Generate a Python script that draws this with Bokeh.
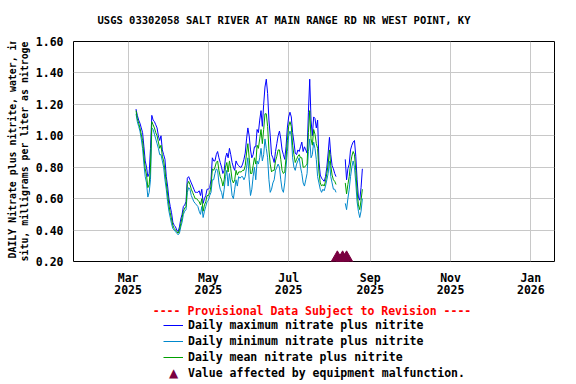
import math
import numpy as np
import pandas as pd
from bokeh.plotting import figure
from bokeh.layouts import column, row
from bokeh.models import (ColumnDataSource, FixedTicker, Range1d, Label, Legend, LegendItem,
                          DatetimeTickFormatter, PrintfTickFormatter)
from bokeh.embed import file_html
from bokeh.resources import INLINE

TITLE = "USGS 03302058 SALT RIVER AT MAIN RANGE RD NR WEST POINT, KY"
YLABEL_1 = "DAILY Nitrate plus nitrite, water, in"
YLABEL_2 = "situ, milligrams per liter as nitrogen"
PROVISIONAL = "---- Provisional Data Subject to Revision ----"
LEGEND_LABELS = ["Daily maximum nitrate plus nitrite",
                 "Daily minimum nitrate plus nitrite",
                 "Daily mean nitrate plus nitrite",
                 "Value affected by equipment malfunction."]

x_tick_dates = ["2025-03-01", "2025-05-01", "2025-07-01", "2025-09-01", "2025-11-01", "2026-01-01"]
y_ticks = [0.20, 0.40, 0.60, 0.80, 1.00, 1.20, 1.40, 1.60]

# Segment 1: daily values starting 2025-03-07
seg1_start = "2025-03-07"
max_seg1 = [1.17, 1.13, 1.10, 1.08, 1.05, 1.02, 0.93, 0.84, 0.80, 0.74, 0.76, 0.92, 1.13, 1.10, 1.09,
            1.07, 1.05, 1.00, 0.97, 1.00, 0.91, 0.88, 0.85, 0.74, 0.68, 0.60, 0.55, 0.51, 0.45, 0.43,
            0.42, 0.40, 0.39, 0.42, 0.47, 0.50, 0.55, 0.56, 0.58, 0.73, 0.74, 0.72, 0.70, 0.68, 0.66,
            0.64, 0.64, 0.64, 0.65, 0.62, 0.66, 0.57, 0.60, 0.62, 0.66, 0.66, 0.67, 0.72, 0.86, 0.84,
            0.84, 0.88, 0.90, 0.86, 0.83, 0.80, 0.76, 0.78, 0.86, 0.89, 0.86, 0.92, 0.88, 0.83, 0.80,
            0.78, 0.84, 0.82, 0.81, 0.80, 0.80, 0.82, 0.85, 0.89, 0.98, 1.05, 1.00, 0.91, 0.86, 0.88,
            0.93, 0.93, 1.04, 1.02, 1.10, 1.16, 1.06, 1.20, 1.31, 1.36, 1.27, 1.10, 1.00, 0.88, 0.86,
            0.83, 0.90, 0.95, 1.00, 1.03, 0.98, 0.91, 0.88, 0.85, 0.93, 1.05, 1.12, 1.15, 1.12, 1.02,
            0.96, 0.89, 0.88, 0.91, 0.90, 0.93, 0.96, 0.90, 0.93, 0.91, 0.89, 1.15, 1.36, 1.10, 1.00,
            1.12, 1.11, 1.05, 1.10, 0.84, 0.75, 0.73, 0.72, 0.71, 0.74, 0.80, 0.89, 0.99, 0.88, 0.81,
            0.79, 0.76, 0.74]
min_seg1 = [1.14, 1.09, 1.06, 1.03, 0.98, 0.92, 0.82, 0.74, 0.70, 0.61, 0.64, 0.72, 1.05, 1.04, 1.01,
            0.98, 0.95, 0.92, 0.88, 0.88, 0.84, 0.80, 0.72, 0.66, 0.58, 0.52, 0.48, 0.44, 0.41, 0.40,
            0.39, 0.38, 0.37, 0.38, 0.42, 0.45, 0.50, 0.52, 0.53, 0.64, 0.67, 0.66, 0.62, 0.60, 0.58,
            0.57, 0.56, 0.55, 0.52, 0.50, 0.55, 0.48, 0.52, 0.55, 0.58, 0.59, 0.62, 0.64, 0.72, 0.72,
            0.76, 0.79, 0.78, 0.70, 0.66, 0.64, 0.60, 0.66, 0.74, 0.78, 0.68, 0.76, 0.70, 0.62, 0.60,
            0.66, 0.72, 0.68, 0.74, 0.73, 0.74, 0.74, 0.72, 0.74, 0.80, 0.86, 0.72, 0.62, 0.66, 0.74,
            0.80, 0.72, 0.84, 0.82, 0.86, 0.92, 0.84, 0.88, 0.98, 0.92, 0.86, 0.72, 0.64, 0.66, 0.70,
            0.72, 0.78, 0.80, 0.82, 0.80, 0.72, 0.66, 0.64, 0.70, 0.80, 0.90, 1.00, 1.03, 1.00, 0.86,
            0.80, 0.78, 0.82, 0.84, 0.86, 0.80, 0.76, 0.70, 0.68, 0.72, 0.76, 0.90, 0.98, 0.86, 0.88,
            0.96, 0.92, 0.85, 0.74, 0.70, 0.66, 0.64, 0.66, 0.65, 0.68, 0.72, 0.76, 0.84, 0.74, 0.70,
            0.66, 0.66, 0.64]
mean_seg1 = [1.16, 1.11, 1.08, 1.05, 1.01, 0.97, 0.87, 0.79, 0.75, 0.67, 0.69, 0.80, 1.09, 1.07, 1.05,
             1.02, 1.00, 0.96, 0.92, 0.94, 0.87, 0.84, 0.78, 0.70, 0.63, 0.56, 0.51, 0.47, 0.43, 0.41,
             0.40, 0.39, 0.38, 0.40, 0.44, 0.48, 0.52, 0.54, 0.55, 0.69, 0.71, 0.69, 0.66, 0.64, 0.62,
             0.60, 0.60, 0.59, 0.58, 0.56, 0.60, 0.52, 0.56, 0.58, 0.62, 0.62, 0.64, 0.68, 0.79, 0.78,
             0.80, 0.83, 0.84, 0.78, 0.74, 0.72, 0.68, 0.72, 0.80, 0.83, 0.77, 0.84, 0.79, 0.72, 0.70,
             0.72, 0.78, 0.75, 0.77, 0.77, 0.77, 0.78, 0.78, 0.81, 0.89, 0.95, 0.86, 0.76, 0.76, 0.81,
             0.86, 0.82, 0.94, 0.92, 0.98, 1.04, 0.95, 1.04, 1.14, 1.14, 1.06, 0.91, 0.82, 0.77, 0.78,
             0.78, 0.84, 0.87, 0.91, 0.91, 0.85, 0.78, 0.76, 0.77, 0.86, 0.97, 1.06, 1.09, 1.06, 0.94,
             0.88, 0.83, 0.85, 0.87, 0.88, 0.86, 0.86, 0.80, 0.80, 0.81, 0.82, 1.02, 1.16, 0.98, 0.94,
             1.04, 1.01, 0.95, 0.92, 0.77, 0.70, 0.68, 0.69, 0.68, 0.71, 0.76, 0.82, 0.91, 0.81, 0.75,
             0.72, 0.71, 0.69]

# Segment 2: daily values starting 2025-08-13
seg2_start = "2025-08-13"
max_seg2 = [0.85, 0.72, 0.79, 0.82, 0.91, 0.94, 0.96, 0.97, 0.87, 0.72, 0.61, 0.59, 0.67, 0.79]
min_seg2 = [0.57, 0.53, 0.60, 0.66, 0.74, 0.80, 0.84, 0.80, 0.70, 0.58, 0.52, 0.48, 0.52, 0.60]
mean_seg2 = [0.70, 0.63, 0.69, 0.74, 0.82, 0.87, 0.90, 0.88, 0.78, 0.65, 0.56, 0.53, 0.59, 0.66]

malfunction_dates = ["2025-08-07", "2025-08-11", "2025-08-14"]
malfunction_y = [0.22, 0.22, 0.22]

C_MAX = "#0000ff"
C_MIN = "#0088cc"
C_MEAN = "#00a000"
C_MAL = "#7a0040"
FONT = "DejaVu Sans Mono"

d1 = pd.date_range(seg1_start, periods=len(max_seg1), freq="D")
d2 = pd.date_range(seg2_start, periods=len(max_seg2), freq="D")
gap = [d1[-1] + pd.Timedelta(days=1)]
dates = list(d1) + gap + list(d2)
nan = [float("nan")]
src = ColumnDataSource(dict(
    date=dates,
    mx=max_seg1 + nan + max_seg2,
    mn=min_seg1 + nan + min_seg2,
    mean=mean_seg1 + nan + mean_seg2,
))
mal_src = ColumnDataSource(dict(date=pd.to_datetime(malfunction_dates), y=malfunction_y))

W = 574
TOP_H, MAIN_H, LEG_H = 30, 270, 82
YLAB_W = 32
FRAME_TOP, FRAME_BOTTOM = 41, 265   # page rows of the plot frame


def blank(width, height):
    f = figure(width=width, height=height, output_backend="svg", toolbar_location=None,
               x_axis_location=None, y_axis_location=None,
               x_range=Range1d(0, 1), y_range=Range1d(0, 1),
               min_border=0, min_border_left=0, min_border_right=0,
               min_border_top=0, min_border_bottom=0)
    f.outline_line_color = None
    f.grid.visible = False
    f.background_fill_color = "white"
    f.border_fill_color = "white"
    return f


def lab(text, x, y, size, color="black", angle=0.0, font=FONT):
    return Label(x=x, y=y, x_units="screen", y_units="screen", text=text, angle=angle,
                 text_align="center", text_baseline="middle", text_font=font,
                 text_font_style="bold", text_font_size=size, text_color=color)


# ---- title strip
top = blank(W, TOP_H)
top.add_layout(lab(TITLE, 283.5, TOP_H - 19, "10.5px"))

# ---- y-label strip (its frame lines up with the main plot frame)
ylab = blank(YLAB_W, MAIN_H)
ylab.add_layout(lab(YLABEL_1, 12, FRAME_BOTTOM - 152, "9.9px", angle=math.pi / 2))
ylab.add_layout(lab(YLABEL_2, 24, FRAME_BOTTOM - 152, "9.9px", angle=math.pi / 2))

# ---- main plot
p = figure(width=W - YLAB_W, height=MAIN_H, x_axis_type="datetime", output_backend="svg",
           toolbar_location=None,
           x_range=Range1d(pd.Timestamp("2025-01-18 12:00"), pd.Timestamp("2026-01-19 00:00")),
           y_range=Range1d(0.2, 1.6),
           min_border_left=72 - YLAB_W, min_border_right=W - 554,
           min_border_top=FRAME_TOP - TOP_H, min_border_bottom=TOP_H + MAIN_H - FRAME_BOTTOM)
p.background_fill_color = "white"
p.border_fill_color = "white"
p.outline_line_color = "black"
p.outline_line_width = 1

xt = [pd.Timestamp(s).value // 10**6 for s in x_tick_dates]
p.xaxis.ticker = FixedTicker(ticks=xt)
p.xaxis.formatter = DatetimeTickFormatter(
    months="%b\n%Y", days="%b\n%Y", years="%b\n%Y", hours="%b\n%Y", minutes="%b\n%Y",
    seconds="%b\n%Y", milliseconds="%b\n%Y", minsec="%b\n%Y", hourmin="%b\n%Y")
p.yaxis.ticker = FixedTicker(ticks=y_ticks)
p.yaxis.formatter = PrintfTickFormatter(format="%.2f")
p.xgrid.ticker = FixedTicker(ticks=xt)
p.ygrid.ticker = FixedTicker(ticks=y_ticks)
for g in (p.xgrid, p.ygrid):
    g.grid_line_color = "#c8c8c8"
    g.grid_line_width = 1

for ax in (p.xaxis, p.yaxis):
    ax.axis_line_color = None
    ax.major_tick_line_color = None
    ax.minor_tick_line_color = None
    ax.major_tick_out = 0
    ax.major_tick_in = 0
    ax.minor_tick_out = 0
    ax.minor_tick_in = 0
    ax.major_label_text_font = FONT
    ax.major_label_text_font_style = "bold"
    ax.major_label_text_font_size = "11.5px"
    ax.major_label_text_color = "black"
p.xaxis.major_label_standoff = 9
p.xaxis.major_label_text_line_height = 0.9
p.yaxis.major_label_standoff = 10

r_max = p.line("date", "mx", source=src, line_color=C_MAX, line_width=1)
r_min = p.line("date", "mn", source=src, line_color=C_MIN, line_width=1)
r_mean = p.line("date", "mean", source=src, line_color=C_MEAN, line_width=1)
r_mal = p.scatter("date", "y", source=mal_src, marker="triangle", size=13,
                  fill_color=C_MAL, line_color=C_MAL)

# ---- legend strip (legend renderers share the data source; the data lie outside this strip's ranges)
leg = blank(W, LEG_H)
leg.add_layout(lab(PROVISIONAL, 311.5, TOP_H + MAIN_H + LEG_H - 310, "11.5px", color="red"))
lg_max = leg.line("date", "mx", source=src, line_color=C_MAX, line_width=1)
lg_min = leg.line("date", "mn", source=src, line_color=C_MIN, line_width=1)
lg_mean = leg.line("date", "mean", source=src, line_color=C_MEAN, line_width=1)
lg_mal = leg.scatter("date", "y", source=mal_src, marker="triangle", fill_alpha=0, line_alpha=0)
legend = Legend(items=[LegendItem(label=LEGEND_LABELS[0], renderers=[lg_max]),
                       LegendItem(label=LEGEND_LABELS[1], renderers=[lg_min]),
                       LegendItem(label=LEGEND_LABELS[2], renderers=[lg_mean]),
                       LegendItem(label=LEGEND_LABELS[3], renderers=[lg_mal])],
                location=(163, TOP_H + MAIN_H + LEG_H - 381), orientation="vertical",
                padding=0, margin=0, spacing=0, glyph_width=20, glyph_height=16,
                label_height=16, label_standoff=5,
                label_text_font=FONT, label_text_font_style="bold",
                label_text_font_size="11.5px", label_text_color="black",
                background_fill_alpha=0, border_line_color=None)
leg.add_layout(legend, "center")
leg.add_layout(Label(x=173, y=TOP_H + MAIN_H + LEG_H - 372, x_units="screen", y_units="screen",
                     text="\u25B2", text_align="center", text_baseline="middle",
                     text_font="DejaVu Sans", text_font_size="12px", text_color=C_MAL))

layout = column(top, row(ylab, p, spacing=0), leg, spacing=0)
open("out.html", "w").write(file_html(layout, INLINE))
